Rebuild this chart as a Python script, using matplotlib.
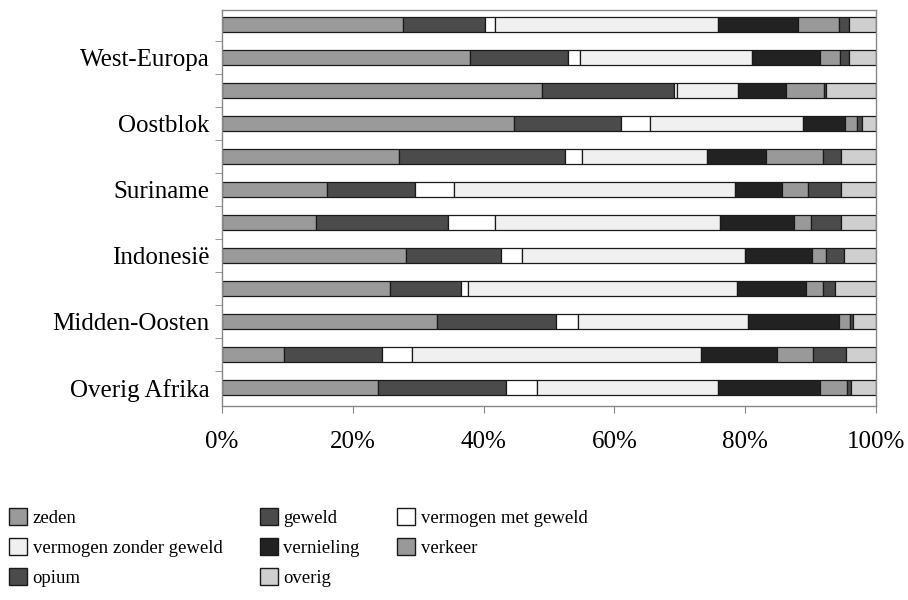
import matplotlib.pyplot as plt
import numpy as np

# herkomst (alleen elke tweede categorie heeft een label)
regions = ['', 'West-Europa', '', 'Oostblok', '', 'Suriname', '',
           'Indonesië', '', 'Midden-Oosten', '', 'Overig Afrika']

# percentages per delict, van boven naar beneden
zeden = [27.7, 37.9, 49.0, 44.7, 27.0, 16.0, 14.4, 28.2, 25.7, 32.9, 9.5, 23.8]
geweld = [12.5, 15.0, 20.1, 16.3, 25.4, 13.5, 20.1, 14.5, 10.9, 18.2, 14.9, 19.6]
verm_met = [1.6, 1.9, 0.4, 4.5, 2.7, 6.0, 7.2, 3.2, 1.0, 3.3, 4.7, 4.7]
verm_zonder = [34.0, 26.2, 9.4, 23.4, 19.0, 42.9, 34.4, 34.1, 41.1, 26.1, 44.2, 27.7]
vernieling = [12.2, 10.5, 7.3, 6.4, 9.1, 7.2, 11.4, 10.2, 10.6, 13.8, 11.6, 15.7]
verkeer = [6.3, 3.0, 5.9, 1.8, 8.7, 4.0, 2.6, 2.1, 2.6, 1.8, 5.5, 4.1]
opium = [1.6, 1.4, 0.3, 0.8, 2.7, 5.0, 4.5, 2.8, 1.9, 0.4, 5.0, 0.6]
overig = [4.1, 4.1, 7.6, 2.1, 5.4, 5.4, 5.4, 4.9, 6.2, 3.5, 4.6, 3.8]

series = [
    ('zeden', zeden, '#9a9a9a'),
    ('geweld', geweld, '#4b4b4b'),
    ('vermogen met geweld', verm_met, '#ffffff'),
    ('vermogen zonder geweld', verm_zonder, '#f0f0f0'),
    ('vernieling', vernieling, '#222222'),
    ('verkeer', verkeer, '#999999'),
    ('opium', opium, '#4b4b4b'),
    ('overig', overig, '#cfcfcf'),
]

plt.rcParams['font.family'] = ['Liberation Serif', 'DejaVu Serif']

fig = plt.figure(figsize=(9.08, 6.0), dpi=100)
ax = fig.add_axes([222 / 908, 1 - 406 / 600, 654 / 908, 396 / 600])

y = np.arange(len(regions))
left = np.zeros(len(regions))
handles = {}
for name, vals, col in series:
    vals = np.array(vals)
    b = ax.barh(y, vals, left=left, height=0.45, color=col,
                edgecolor='#1a1a1a', linewidth=0.9)
    handles[name] = b
    left += vals

ax.set_xlim(0, 100)
ax.set_ylim(len(regions) - 0.45, -0.45)
ax.set_xticks(range(0, 101, 20))
ax.set_xticklabels([f'{v}%' for v in range(0, 101, 20)], fontsize=18)
ax.set_yticks(y)
ax.set_yticklabels(regions, fontsize=18)
ax.set_yticks(np.arange(0.5, len(regions) - 1, 1), minor=True)
ax.tick_params(axis='y', which='major', length=0, pad=9)
ax.tick_params(axis='y', which='minor', length=5, color='#888888')
ax.tick_params(axis='x', length=5, color='#888888', pad=13)
for s in ax.spines.values():
    s.set_color('#888888')
    s.set_linewidth(1.0)

# legenda vult per kolom, dus volgorde omzetten
order = ['zeden', 'vermogen zonder geweld', 'opium',
         'geweld', 'vernieling', 'overig',
         'vermogen met geweld', 'verkeer']
leg_handles = [plt.Rectangle((0, 0), 1, 1, facecolor=handles[n].patches[0].get_facecolor(),
                             edgecolor='#1a1a1a', linewidth=1.0) for n in order]
fig.legend(leg_handles, order, loc='upper left', bbox_to_anchor=(0.006, 0.16),
           ncol=3, frameon=False, fontsize=13.5, handlelength=0.95, handleheight=1.0,
           handletextpad=0.3, columnspacing=2.0, labelspacing=0.6,
           borderaxespad=0, borderpad=0.2)

fig.savefig('out.png', dpi=100)
